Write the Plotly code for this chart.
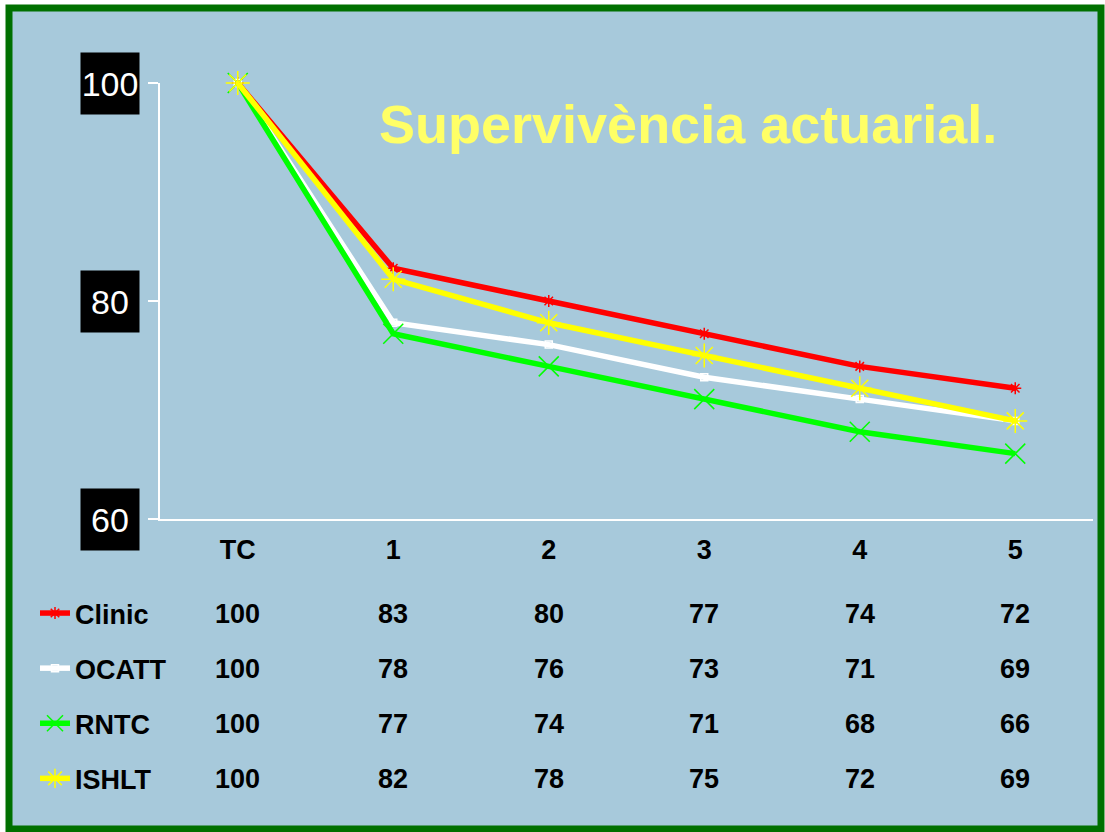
import plotly.graph_objects as go

categories = ["TC", "1", "2", "3", "4", "5"]
series_names = ["Clinic", "OCATT", "RNTC", "ISHLT"]
clinic = [100, 83, 80, 77, 74, 72]
ocatt = [100, 78, 76, 73, 71, 69]
rntc = [100, 77, 74, 71, 68, 66]
ishlt = [100, 82, 78, 75, 72, 69]
y_ticks = [60, 80, 100]
title_text = "Supervivència actuarial."

values = [clinic, ocatt, rntc, ishlt]
colors = ["#FF0000", "#FFFFFF", "#00FF00", "#FFFF00"]
symbols = ["asterisk-open", "square-open", "x-thin-open", "asterisk-open"]
msizes = [10, 7, 20, 20]

W, H = 1105, 832
L, R, T, B = 160, 12, 83, 313
plot_w = W - L - R
plot_h = H - T - B

def px_to_paper_x(px):
    return (px - L) / plot_w

def px_to_paper_y(py):
    return (H - B - py) / plot_h

fig = go.Figure()
for i, (name, vals) in enumerate(zip(series_names, values)):
    fig.add_trace(go.Scatter(
        x=categories, y=vals, name=name, mode="lines+markers",
        line=dict(color=colors[i], width=5.5),
        marker=dict(symbol=symbols[i], size=msizes[i], color=colors[i],
                    line=dict(color=colors[i], width=1.5)),
        legendgroup=name, cliponaxis=False,
    ))

font_fam = "Liberation Sans, Arial, sans-serif"

annotations = []
# y tick labels in black boxes
for v in y_ticks:
    annotations.append(dict(
        x=px_to_paper_x(110), xref="paper", y=v, yref="y",
        text=str(v), showarrow=False, xanchor="center", yanchor="middle",
        font=dict(family=font_fam, size=34, color="white"),
        bgcolor="black", borderpad=0, width=58, height=61,
    ))
# title
annotations.append(dict(
    x=px_to_paper_x(688), xref="paper", y=px_to_paper_y(124), yref="paper",
    text="<b>" + title_text + "</b>", showarrow=False,
    xanchor="center", yanchor="middle",
    font=dict(family=font_fam, size=54, color="#FFFF66"),
))
# data table
row_px = [614, 669, 724, 779]
for r, vals in enumerate(values):
    for c, v in zip(categories, vals):
        annotations.append(dict(
            x=c, xref="x", y=px_to_paper_y(row_px[r]), yref="paper",
            text="<b>%d</b>" % v, showarrow=False, xanchor="center", yanchor="middle",
            font=dict(family=font_fam, size=27, color="black"),
        ))

fig.update_layout(
    width=W, height=H,
    margin=dict(l=L, r=R, t=T, b=B, autoexpand=False),
    paper_bgcolor="white", plot_bgcolor="#A7C9DB",
    showlegend=True,
    legend=dict(
        x=px_to_paper_x(35), y=px_to_paper_y(589), xanchor="left", yanchor="top",
        xref="paper", yref="paper",
        bgcolor="rgba(0,0,0,0)", traceorder="grouped", tracegroupgap=17,
        font=dict(family=font_fam, size=27, color="black", weight="bold"),
        itemwidth=30,
    ),
    xaxis=dict(
        type="category", range=[-0.5, 5.5], showgrid=False, zeroline=False,
        showline=True, linecolor="white", linewidth=2, ticks="",
        tickfont=dict(family=font_fam, size=27, color="black", weight="bold"),
        ticklabelstandoff=6,
    ),
    yaxis=dict(
        range=[60, 100], tickvals=y_ticks, showticklabels=False,
        showgrid=False, zeroline=False, showline=True, linecolor="white",
        linewidth=2, ticks="outside", ticklen=10, tickcolor="white", tickwidth=2,
    ),
    annotations=annotations,
    shapes=[dict(
        type="rect", xref="paper", yref="paper", layer="below",
        x0=px_to_paper_x(9), x1=px_to_paper_x(1101),
        y0=px_to_paper_y(829), y1=px_to_paper_y(8),
        fillcolor="#A7C9DB", line=dict(color="#007000", width=7),
    )],
)

fig.write_html("out.html", config={"displayModeBar": False},
               post_script="document.body.style.margin='0';document.body.style.overflow='hidden';")
